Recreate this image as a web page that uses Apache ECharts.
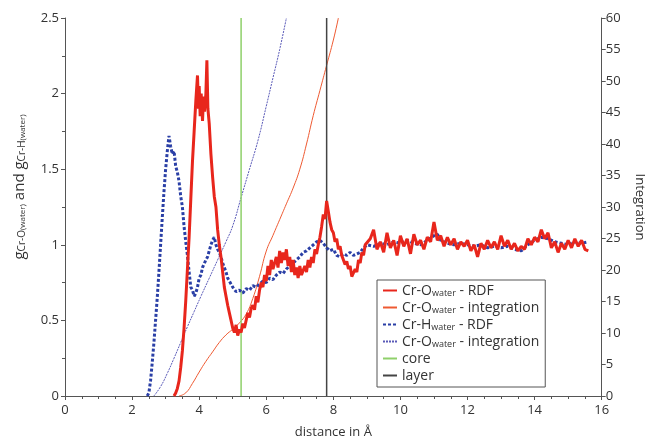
<!DOCTYPE html>
<html>
<head>
<meta charset="utf-8">
<script src="https://cdn.jsdelivr.net/npm/echarts@6/dist/echarts.min.js"></script>
<style>html,body{margin:0;padding:0;background:#fff}#c{width:650px;height:439px}</style>
</head>
<body>
<div id="c"></div>
<script>
// ---- data (distance in Å, value) ----
const crO_rdf = [
[3.25,0],[3.3,0.02],[3.35,0.05],[3.4,0.1],[3.45,0.19],[3.5,0.3],[3.55,0.45],[3.6,0.63],[3.65,0.84],[3.7,1.05],[3.75,1.3],[3.8,1.55],[3.85,1.75],[3.9,1.95],[3.95,2.12],[3.98,1.9],[4.0,2.05],[4.03,1.85],[4.06,2.0],[4.1,1.82],[4.13,1.98],[4.16,1.88],[4.2,2.0],[4.23,2.22],[4.26,1.9],[4.3,1.8],[4.35,1.6],[4.4,1.45],[4.45,1.32],[4.5,1.25],[4.55,1.1],[4.6,1.0],[4.65,0.92],[4.7,0.82],[4.75,0.72],[4.8,0.66],[4.85,0.6],[4.9,0.55],[4.95,0.5],[5.0,0.45],[5.05,0.42],[5.1,0.47],[5.15,0.4],[5.2,0.44],[5.25,0.42],[5.3,0.48],[5.35,0.45],[5.4,0.5],[5.45,0.55],[5.5,0.52],[5.55,0.58],[5.6,0.6],[5.65,0.57],[5.7,0.66],[5.75,0.62],[5.8,0.7],[5.85,0.75],[5.9,0.72],[5.95,0.8],[6.0,0.76],[6.05,0.86],[6.1,0.8],[6.15,0.9],[6.2,0.84],[6.25,0.88],[6.3,0.92],[6.35,0.85],[6.4,0.96],[6.45,0.88],[6.5,0.95],[6.55,0.9],[6.6,0.97],[6.65,0.86],[6.7,0.92],[6.75,0.82],[6.8,0.9],[6.85,0.8],[6.9,0.85],[6.95,0.78],[7.0,0.86],[7.05,0.8],[7.1,0.79],[7.15,0.86],[7.2,0.82],[7.25,0.9],[7.3,0.85],[7.35,0.92],[7.4,0.88],[7.45,0.97],[7.5,0.94],[7.55,1.0],[7.6,1.05],[7.65,1.12],[7.7,1.2],[7.75,1.17],[7.8,1.29],[7.85,1.22],[7.9,1.15],[7.95,1.1],[8.0,1.08],[8.05,1.02],[8.1,1.04],[8.15,0.97],[8.2,0.99],[8.25,0.93],[8.3,0.92],[8.35,0.87],[8.4,0.89],[8.45,0.84],[8.5,0.86],[8.55,0.79],[8.6,0.78],[8.65,0.84],[8.7,0.82],[8.75,0.9],[8.8,0.88],[8.85,0.95],[8.9,0.93],[8.95,1.0],
[9.0,0.99],[9.1,1.04],[9.2,1.1],[9.3,0.97],[9.4,1.02],[9.5,0.95],[9.6,1.08],[9.7,0.98],[9.8,1.03],[9.9,0.93],[10.0,1.06],[10.1,0.99],[10.2,1.04],[10.3,0.94],[10.4,1.07],[10.5,1.0],[10.6,1.03],[10.7,0.97],[10.8,1.05],[10.9,1.02],[11.0,1.15],[11.1,1.03],[11.2,1.06],[11.3,0.99],[11.4,1.05],[11.5,1.0],[11.6,1.04],[11.7,0.97],[11.8,1.02],[11.9,0.99],[12.0,1.03],[12.1,0.96],[12.2,1.0],[12.3,0.92],[12.4,1.01],[12.5,0.97],[12.6,1.03],[12.7,0.98],[12.8,1.02],[12.9,0.97],[13.0,1.06],[13.1,0.99],[13.2,1.03],[13.3,0.97],[13.4,1.01],[13.5,0.96],[13.6,0.99],[13.7,0.97],[13.8,1.04],[13.9,1.0],[14.0,1.05],[14.1,1.02],[14.2,1.1],[14.3,1.04],[14.4,1.08],[14.5,0.98],[14.6,1.02],[14.7,0.95],[14.8,1.01],[14.9,0.97],[15.0,1.03],[15.1,0.98],[15.2,1.04],[15.3,0.99],[15.4,1.03],[15.5,0.97],[15.6,0.96]
];
const crO_int = [
[3.4,0],[3.6,0.5],[3.8,2],[4.0,3.8],[4.2,5.5],[4.4,7],[4.6,8.5],[4.8,9.7],[5.0,10.6],[5.2,11.6],[5.4,13],[5.6,15.5],[5.8,19],[6.0,23],[6.2,25.5],[6.4,28],[6.6,30.5],[6.8,33],[7.0,36],[7.2,40],[7.4,44.5],[7.6,48.5],[7.8,52.5],[8.0,56.5],[8.15,60]
];
const crH_rdf = [
[2.45,0],[2.5,0.02],[2.55,0.1],[2.6,0.22],[2.65,0.35],[2.7,0.5],[2.75,0.65],[2.8,0.82],[2.85,1.0],[2.9,1.18],[2.95,1.35],[3.0,1.5],[3.05,1.62],[3.1,1.72],[3.15,1.65],[3.2,1.6],[3.25,1.62],[3.3,1.52],[3.35,1.48],[3.4,1.42],[3.45,1.32],[3.5,1.25],[3.55,1.12],[3.6,1.02],[3.65,0.93],[3.7,0.82],[3.75,0.72],[3.8,0.7],[3.85,0.66],[3.9,0.68],[3.95,0.72],[4.0,0.78],[4.05,0.8],[4.1,0.85],[4.15,0.86],[4.2,0.9],[4.25,0.92],[4.3,0.96],[4.35,1.0],[4.4,1.03],[4.45,1.05],[4.5,1.0],[4.55,0.97],[4.6,0.95],[4.65,0.92],[4.7,0.88],[4.75,0.85],[4.8,0.82],[4.85,0.78],[4.9,0.76],[4.95,0.74],[5.0,0.72],[5.1,0.69],[5.2,0.7],[5.3,0.68],[5.4,0.71],[5.5,0.7],[5.6,0.73],[5.7,0.72],[5.8,0.74],[5.9,0.76],[6.0,0.75],[6.1,0.78],[6.2,0.77],[6.3,0.8],[6.4,0.82],[6.5,0.81],[6.6,0.84],[6.7,0.86],[6.8,0.88],[6.9,0.9],[7.0,0.92],[7.1,0.95],[7.2,0.96],[7.3,0.98],[7.4,1.0],[7.5,1.02],[7.6,1.03],[7.7,1.01],[7.8,0.98],[7.9,0.96],[8.0,0.97],[8.1,0.93],[8.2,0.92],[8.3,0.94],[8.4,0.93],[8.5,0.95],[8.6,0.93],[8.7,0.94],[8.8,0.95],[8.9,0.98],
[9.0,1.0],[9.2,0.99],[9.4,1.01],[9.6,1.0],[9.8,1.02],[10.0,1.01],[10.2,1.03],[10.4,1.01],[10.6,1.0],[10.8,1.03],[11.0,1.06],[11.1,1.07],[11.2,1.03],[11.4,1.01],[11.6,1.0],[11.8,1.01],[12.0,1.0],[12.2,0.99],[12.4,1.0],[12.6,0.98],[12.8,0.99],[13.0,0.98],[13.2,0.99],[13.4,0.97],[13.6,0.96],[13.8,1.0],[14.0,1.03],[14.2,1.05],[14.4,1.04],[14.6,1.02],[14.8,1.01],[15.0,1.0],[15.2,1.02],[15.4,1.01],[15.6,1.02]
];
const crH_int = [
[2.65,0],[2.85,1.5],[3.05,3.6],[3.25,6],[3.45,8.5],[3.65,11],[3.85,13.4],[4.05,15.8],[4.3,18.7],[4.55,21.6],[4.8,24.5],[5.0,27],[5.25,31.5],[5.5,36],[5.75,40.5],[6.0,46],[6.2,50.5],[6.4,55],[6.6,60]
];
const coreX = [[5.25,0],[5.25,2.5]];
const layerX = [[7.8,0],[7.8,2.5]];
const seriesNames = ['crO_rdf','crO_int','crH_rdf','crH_int','core','layer'];
const legendLabels = {
  crO_rdf: '{a|Cr-O}{s|water}{a| - RDF}',
  crO_int: '{a|Cr-O}{s|water}{a| - integration}',
  crH_rdf: '{a|Cr-H}{s|water}{a| - RDF}',
  crH_int: '{a|Cr-O}{s|water}{a| - integration}',
  core: '{a|core}',
  layer: '{a|layer}'
};
const xTitle = 'distance in Å';
const yRightTitle = 'Integration';

const FONT = 'Open Sans';
const axisCol = '#555';
const chart = echarts.init(document.getElementById('c'), null, {renderer:'canvas'});
chart.setOption({
  animation:false,
  backgroundColor:'#fff',
  textStyle:{fontFamily:FONT},
  grid:{left:65, right:48.3, top:18, bottom:43, containLabel:false, outerBoundsMode:'none'},
  legend:{
    orient:'vertical', left:377, top:280,
    data:seriesNames,
    formatter:function(n){return legendLabels[n];},
    backgroundColor:'#fff', borderColor:'#555', borderWidth:1,
    padding:[4,6,4,5], itemGap:3, itemWidth:14, itemHeight:10,
    itemStyle:{opacity:0},
    textStyle:{fontFamily:FONT, color:'#333', rich:{
      a:{fontSize:14, color:'#333', fontFamily:FONT, lineHeight:15, verticalAlign:'bottom'},
      s:{fontSize:9, color:'#333', fontFamily:FONT, lineHeight:10, verticalAlign:'bottom'}
    }}
  },
  xAxis:{
    type:'value', min:0, max:16, interval:2,
    name:xTitle, nameLocation:'middle', nameGap:30,
    nameTextStyle:{fontSize:13, color:'#333', fontFamily:FONT},
    axisLine:{lineStyle:{color:axisCol, width:1}},
    axisTick:{length:4, lineStyle:{color:axisCol}},
    minorTick:{show:true, splitNumber:4, length:3, lineStyle:{color:axisCol}},
    axisLabel:{fontSize:13, color:'#333', margin:8, fontFamily:FONT},
    splitLine:{show:false}
  },
  yAxis:[{
    type:'value', min:0, max:2.5, interval:0.5, position:'left',
    name:'{g|g}{s|Cr-O}{w|(water)}{g| and }{g|g}{s|Cr-H}{w|(water)}',
    nameLocation:'middle', nameGap:38, nameRotate:90,
    nameTextStyle:{color:'#333', fontFamily:FONT, padding:[0,0,0,40], rich:{
      g:{fontSize:15, color:'#333', fontFamily:FONT, lineHeight:18, verticalAlign:'bottom'},
      s:{fontSize:10, color:'#333', fontFamily:FONT, lineHeight:12, verticalAlign:'bottom'},
      w:{fontSize:8, color:'#333', fontFamily:FONT, lineHeight:11, verticalAlign:'bottom'}
    }},
    axisLine:{show:true, lineStyle:{color:axisCol, width:1}},
    axisTick:{show:true, length:4, lineStyle:{color:axisCol}},
    minorTick:{show:true, splitNumber:2, length:3, lineStyle:{color:axisCol}},
    axisLabel:{fontSize:13, color:'#333', margin:6, fontFamily:FONT},
    splitLine:{show:false}
  },{
    type:'value', min:0, max:60, interval:5, position:'right',
    name:yRightTitle, nameLocation:'middle', nameGap:32, nameRotate:-90,
    nameTextStyle:{fontSize:13, color:'#333', fontFamily:FONT},
    axisLine:{show:true, lineStyle:{color:axisCol, width:1}},
    axisTick:{show:true, length:4, lineStyle:{color:axisCol}},
    axisLabel:{fontSize:13, color:'#333', margin:4, fontFamily:FONT},
    splitLine:{show:false}
  }],
  series:[
    {name:'crO_int', type:'line', yAxisIndex:1, data:crO_int, symbol:'none', smooth:true,
     lineStyle:{color:'#ee5a32', width:1}, itemStyle:{color:'#ee5a32'}, z:2},
    {name:'crH_int', type:'line', yAxisIndex:1, data:crH_int, symbol:'none', smooth:true,
     lineStyle:{color:'#5a5ab8', width:1, type:[2,1]}, itemStyle:{color:'#5a5ab8'}, z:2},
    {name:'core', type:'line', data:coreX, symbol:'none',
     lineStyle:{color:'#8fd06a', width:1.5}, itemStyle:{color:'#8fd06a'}, z:3},
    {name:'layer', type:'line', data:layerX, symbol:'none',
     lineStyle:{color:'#444', width:1.5}, itemStyle:{color:'#444'}, z:3},
    {name:'crH_rdf', type:'line', data:crH_rdf, symbol:'none',
     lineStyle:{color:'#2a3fa6', width:3, type:[3,2]}, itemStyle:{color:'#2a3fa6'}, z:4},
    {name:'crO_rdf', type:'line', data:crO_rdf, symbol:'none',
     lineStyle:{color:'#e8261c', width:3}, itemStyle:{color:'#e8261c'}, z:5}
  ]
});
</script>
</body>
</html>
